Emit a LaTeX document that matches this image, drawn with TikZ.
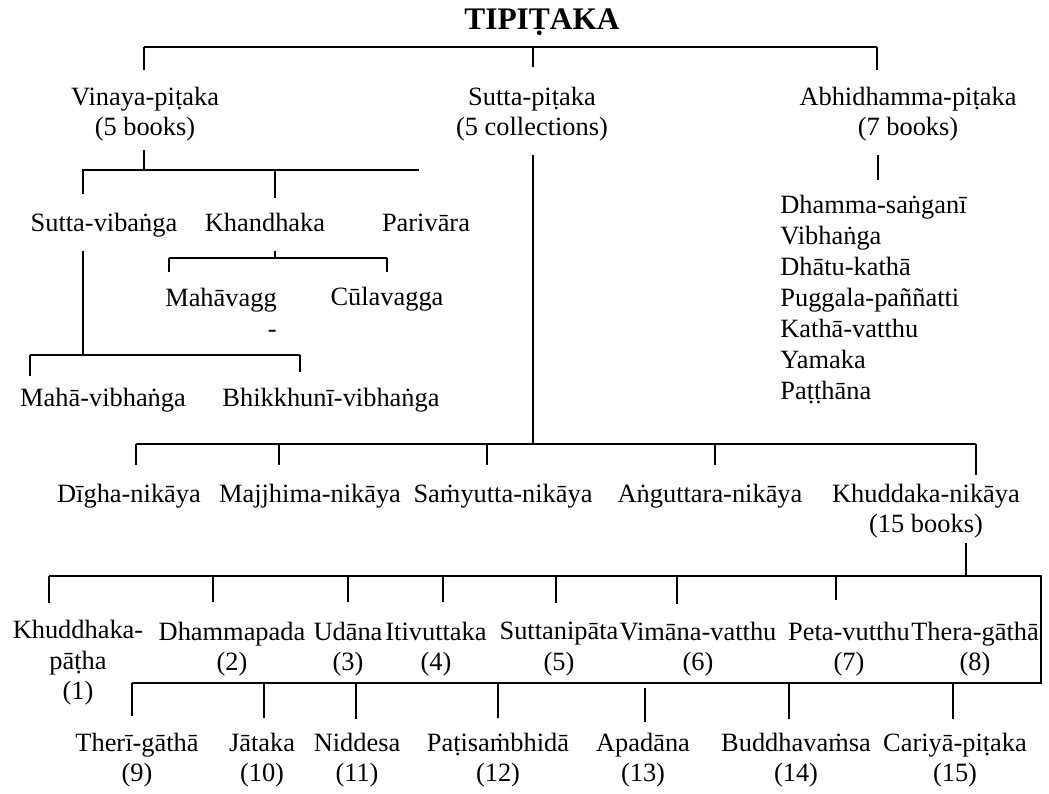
\documentclass[tikz,border=0pt]{standalone}
\usepackage{fontspec}
\setmainfont{Liberation Serif}
\usepackage{tikz}

\newcommand\lblsize{\fontsize{13.2}{15.2}\selectfont}

\begin{document}
\begin{tikzpicture}[
    x=0.5pt, y=-0.5pt,
    lbl/.style={font=\lblsize, inner sep=0pt, align=center},
    onelbl/.style={lbl, anchor=base},
    listlbl/.style={font=\fontsize{13.2}{15.5}\selectfont, inner sep=0pt, align=left, anchor=west},
    ttl/.style={font=\fontsize{15.7}{18}\selectfont\bfseries, inner sep=0pt},
    tree/.style={line width=0.9pt, color=black}
]
\useasboundingbox (0,0) rectangle (1049,793);

% Title and the three baskets
\node[ttl] (tipi) at (542,22) {TIPIṬAKA};
\node[lbl] (vinaya) at (145,114) {Vinaya-piṭaka\\(5 books)};
\node[lbl] (sutta) at (532,114) {Sutta-piṭaka\\(5 collections)};
\node[lbl] (abhi) at (908,114) {Abhidhamma-piṭaka\\(7 books)};

% Vinaya divisions
\node[onelbl] (svib) at (104,231) {Sutta-vibaṅga};
\node[onelbl] (khan) at (265,231) {Khandhaka};
\node[onelbl] (pari) at (426,231) {Parivāra};
\node[lbl, align=right] (maha) at (221,313) {Mahāvagg\\-};
\node[onelbl] (cula) at (387,305) {Cūlavagga};
\node[onelbl] (mvib) at (103,406) {Mahā-vibhaṅga};
\node[onelbl] (bvib) at (331,406) {Bhikkhunī-vibhaṅga};

% Abhidhamma books
\node[listlbl] (abhilist) at (780,300) {Dhamma-saṅganī\\Vibhaṅga\\Dhātu-kathā\\Puggala-paññatti\\Kathā-vatthu\\Yamaka\\Paṭṭhāna};

% Sutta collections
\node[onelbl] (digha) at (129,502) {Dīgha-nikāya};
\node[onelbl] (majj) at (310,502) {Majjhima-nikāya};
\node[onelbl] (samy) at (503,502) {Saṁyutta-nikāya};
\node[onelbl] (angu) at (710,502) {Aṅguttara-nikāya};
\node[lbl] (khud) at (926,511) {Khuddaka-nikāya\\(15 books)};

% Khuddaka books, first row
\node[lbl] (khp) at (78,663) {Khuddhaka-\\pāṭha\\(1)};
\node[lbl] (dhp) at (232,649) {Dhammapada\\(2)};
\node[lbl] (uda) at (348,649) {Udāna\\(3)};
\node[lbl] (iti) at (436,649) {Itivuttaka\\(4)};
\node[lbl] (snp) at (559,649) {Suttanipāta\\(5)};
\node[lbl] (vv) at (698,649) {Vimāna-vatthu\\(6)};
\node[lbl] (pv) at (849,649) {Peta-vutthu\\(7)};
\node[lbl] (thag) at (975,649) {Thera-gāthā\\(8)};

% Khuddaka books, second row
\node[lbl] (thig) at (137,760) {Therī-gāthā\\(9)};
\node[lbl] (jat) at (262,760) {Jātaka\\(10)};
\node[lbl] (nidd) at (357,760) {Niddesa\\(11)};
\node[lbl] (pats) at (498,760) {Paṭisaṁbhidā\\(12)};
\node[lbl] (apad) at (643,760) {Apadāna\\(13)};
\node[lbl] (budv) at (796,760) {Buddhavaṁsa\\(14)};
\node[lbl] (cari) at (955,760) {Cariyā-piṭaka\\(15)};

% Top level branches
\draw[tree] (144,47) -- (877,47);
\foreach \x/\y in {144/70, 533/67, 877/70} \draw[tree] (\x,47) -- (\x,\y);

% Vinaya branches
\draw[tree] (144,150) -- (144,170);
\draw[tree] (82,170) -- (419,170);
\foreach \x/\y in {83/194, 275/198} \draw[tree] (\x,170) -- (\x,\y);
\draw[tree] (83,251) -- (83,355);
\draw[tree] (30,355) -- (300,355);
\foreach \x/\y in {30/376, 300/372} \draw[tree] (\x,355) -- (\x,\y);
\draw[tree] (275,251) -- (275,258);
\draw[tree] (169,258) -- (387,258);
\foreach \x in {169, 387} \draw[tree] (\x,258) -- (\x,272);

% Abhidhamma branch
\draw[tree] (878,155) -- (878,180);

% Sutta branches
\draw[tree] (533,155) -- (533,444);
\draw[tree] (136,444) -- (976,444);
\foreach \x/\y in {136/465, 279/465, 487/465, 715/465, 976/475} \draw[tree] (\x,444) -- (\x,\y);

% Khuddaka branches
\draw[tree] (966,543) -- (966,576);
\draw[tree] (49,576) -- (1041,576) -- (1041,683) -- (132,683);
\foreach \x/\y in {49/603, 213/602, 348/602, 443/602, 556/603, 677/604, 836/600} \draw[tree] (\x,576) -- (\x,\y);
\foreach \x/\y in {132/716, 264/718, 356/719, 498/718, 789/719, 953/719} \draw[tree] (\x,683) -- (\x,\y);
\draw[tree] (645,688) -- (645,722);

\end{tikzpicture}
\end{document}
